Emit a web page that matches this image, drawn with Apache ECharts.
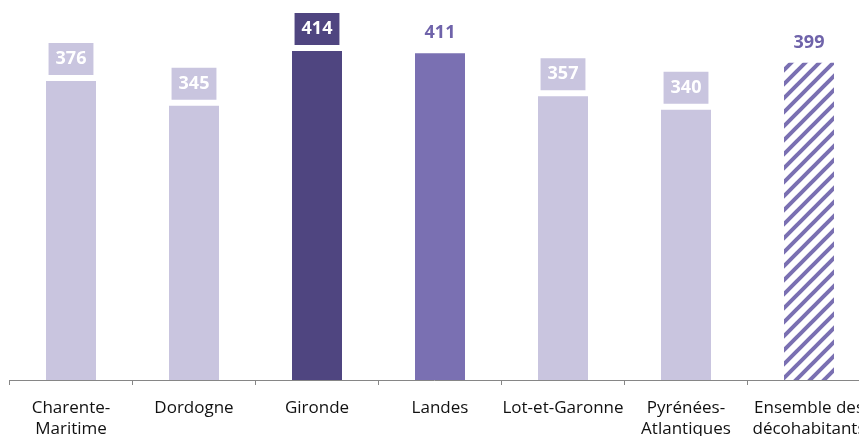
<!DOCTYPE html>
<html>
<head>
<meta charset="utf-8">
<script src="https://cdn.jsdelivr.net/npm/echarts@6/dist/echarts.min.js"></script>
<style>
html,body{margin:0;padding:0;background:#fff;}
#chart{width:859px;height:436px;}
</style>
</head>
<body>
<div id="chart"></div>
<script>
const categories = ["Charente-\nMaritime", "Dordogne", "Gironde", "Landes", "Lot-et-Garonne", "Pyrénées-\nAtlantiques", "Ensemble des\ndécohabitants"];
const values = [376, 345, 414, 411, 357, 340, 399];

const LIGHT = '#C9C5DF', DARK = '#4F4580', MID = '#7A70B2';

function hatch() {
  const s = 14;
  const c = document.createElement('canvas');
  c.width = s; c.height = s;
  const g = c.getContext('2d');
  g.fillStyle = '#fff'; g.fillRect(0, 0, s, s);
  g.strokeStyle = MID; g.lineWidth = 4;
  g.beginPath();
  g.moveTo(-s, 2 * s); g.lineTo(2 * s, -s);
  g.moveTo(-2 * s, 2 * s); g.lineTo(s, -s);
  g.moveTo(0, 2 * s); g.lineTo(3 * s, -s);
  g.stroke();
  return c;
}

const styles = [
  {color: LIGHT, box: LIGHT, text: '#fff'},
  {color: LIGHT, box: LIGHT, text: '#fff'},
  {color: DARK, box: DARK, text: '#fff'},
  {color: MID, box: null, text: '#6F63AA'},
  {color: LIGHT, box: LIGHT, text: '#fff'},
  {color: LIGHT, box: LIGHT, text: '#fff'},
  {color: {image: hatch(), repeat: 'repeat'}, box: null, text: '#6F63AA'}
];

const data = values.map((v, i) => {
  const st = styles[i];
  const label = {
    show: true, position: 'top',
    distance: st.box ? 6 : 4,
    color: st.text,
    fontFamily: 'Open Sans', fontWeight: 'bold', fontSize: 18,
    lineHeight: 22,
    padding: [5, 7, 5, 7]
  };
  if (st.box) label.backgroundColor = st.box;
  return {value: v, itemStyle: {color: st.color}, label};
});

const chart = echarts.init(document.getElementById('chart'), null, {renderer: 'canvas'});
chart.setOption({
  animation: false,
  grid: {left: 9.5, top: 0, width: 861, height: 380, containLabel: false, outerBoundsMode: 'none'},
  xAxis: {
    type: 'category',
    data: categories,
    axisLine: {lineStyle: {color: '#868686', width: 1}},
    axisTick: {show: true, length: 5, lineStyle: {color: '#868686'}},
    axisLabel: {
      color: '#111', fontFamily: 'Open Sans', fontSize: 17,
      lineHeight: 21, margin: 18, interval: 0, hideOverlap: false
    }
  },
  yAxis: {
    type: 'value', min: 0, max: 478,
    show: false, splitLine: {show: false}
  },
  series: [{
    type: 'bar',
    data: data,
    barWidth: 50
  }]
});
</script>
</body>
</html>
